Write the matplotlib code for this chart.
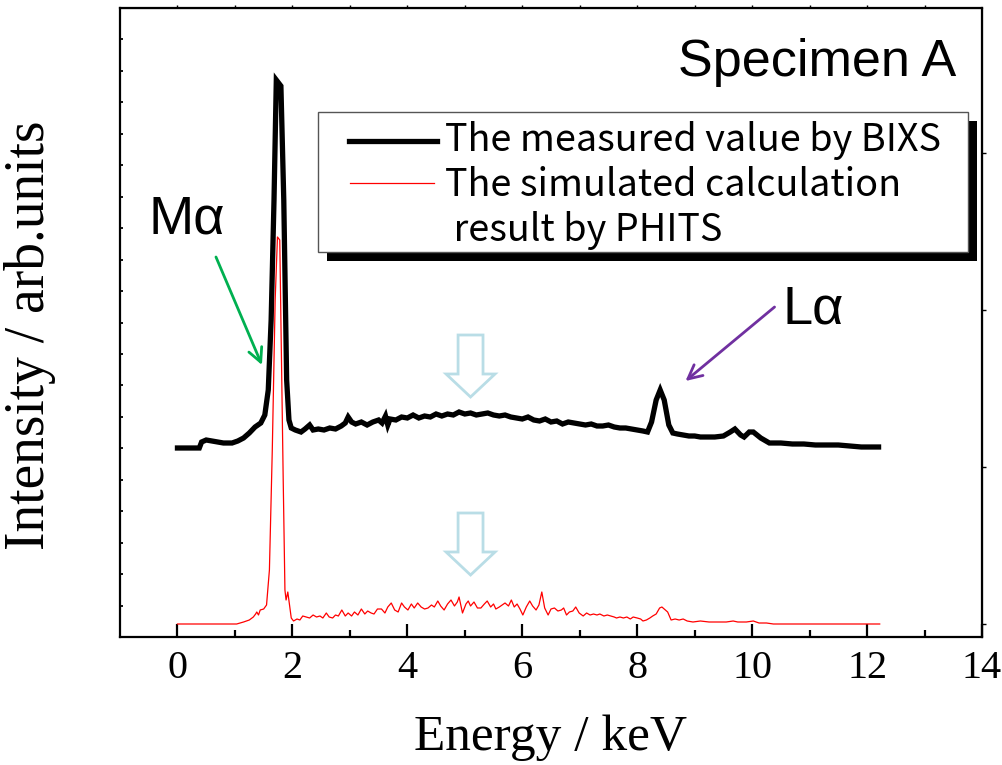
import numpy as np
import matplotlib
matplotlib.use("Agg")
import matplotlib.pyplot as plt
from matplotlib.patches import Polygon, Rectangle
from matplotlib.lines import Line2D

# ---------------- data (energy in keV, intensity in arb. units) ----------------
meas_x = [0.00, 0.38, 0.42, 0.50, 0.60, 0.70, 0.80, 0.95, 1.05, 1.15, 1.25, 1.35, 1.45,
          1.52, 1.58, 1.63, 1.68, 1.72, 1.80, 1.85, 1.90, 1.94, 1.98, 2.05, 2.15, 2.22,
          2.30, 2.36, 2.45, 2.55, 2.65, 2.75, 2.85, 2.92, 2.97, 3.03, 3.10, 3.20, 3.30,
          3.40, 3.50, 3.56, 3.62, 3.66, 3.70, 3.80, 3.90, 4.00, 4.10, 4.20, 4.30, 4.40,
          4.50, 4.60, 4.70, 4.80, 4.90, 5.00, 5.10, 5.20, 5.30, 5.40, 5.50, 5.60, 5.70,
          5.80, 5.90, 6.00, 6.10, 6.20, 6.30, 6.40, 6.50, 6.60, 6.70, 6.80, 6.90, 7.00,
          7.10, 7.20, 7.30, 7.40, 7.50, 7.60, 7.70, 7.80, 7.90, 8.00, 8.10, 8.18, 8.25,
          8.33, 8.40, 8.47, 8.55, 8.62, 8.70, 8.80, 8.90, 9.00, 9.10, 9.20, 9.35, 9.50,
          9.62, 9.70, 9.80, 9.86, 9.95, 10.02, 10.15, 10.30, 10.50, 10.70, 10.90, 11.10,
          11.30, 11.50, 11.70, 11.90, 12.05, 12.20]
meas_y = [189, 189, 195, 197, 196, 195, 194, 194, 196, 199, 204, 210, 214,
          222, 247, 317, 437, 557, 551, 437, 257, 217, 209, 207, 205, 208,
          212, 207, 208, 207, 209, 208, 211, 214, 220, 215, 213, 215, 212,
          215, 217, 214, 221, 212, 218, 217, 220, 219, 222, 219, 221, 220,
          223, 221, 223, 222, 225, 223, 224, 222, 223, 224, 222, 221, 222,
          220, 219, 218, 220, 217, 216, 218, 215, 216, 213, 215, 214, 213,
          212, 213, 211, 211, 212, 210, 209, 209, 208, 207, 206, 205, 215,
          237, 247, 237, 212, 204, 203, 202, 201, 201, 200, 200, 200, 201,
          205, 208, 202, 200, 205, 205, 199, 194, 194, 193, 193, 192,
          192, 192, 191, 190, 190, 190]

sim_x = [0.00, 1.03, 1.15, 1.25, 1.32, 1.36, 1.38, 1.41, 1.44, 1.50, 1.55, 1.60, 1.65,
         1.70, 1.74, 1.78, 1.80, 1.84, 1.87, 1.89, 1.92, 1.95, 1.98, 2.02,
         2.08, 2.13, 2.18, 2.24, 2.30, 2.36, 2.42, 2.48, 2.53, 2.59, 2.64, 2.70, 2.75,
         2.80, 2.86, 2.92, 2.97, 3.03, 3.08, 3.14, 3.20, 3.26, 3.31, 3.37, 3.42, 3.48,
         3.55, 3.61, 3.66, 3.72, 3.78, 3.84, 3.90, 3.95, 4.01, 4.07, 4.12, 4.18, 4.24,
         4.30, 4.36, 4.42, 4.47, 4.53, 4.58, 4.64, 4.70, 4.76, 4.82, 4.87, 4.90, 4.96,
         5.02, 5.06, 5.10, 5.16, 5.22, 5.28, 5.34, 5.39, 5.45, 5.50, 5.54, 5.60, 5.65,
         5.70, 5.76, 5.81, 5.86, 5.91, 5.96, 6.01, 6.07, 6.13, 6.18, 6.24, 6.29, 6.34,
         6.39, 6.45, 6.50, 6.56, 6.62, 6.68, 6.72, 6.77, 6.82, 6.88, 6.93, 6.99, 7.06,
         7.12, 7.18, 7.24, 7.30, 7.35, 7.42, 7.48, 7.54, 7.60, 7.64, 7.70, 7.76, 7.82,
         7.88, 7.93, 8.00, 8.06, 8.10, 8.16, 8.22, 8.27, 8.33, 8.39, 8.43, 8.47, 8.53,
         8.59, 8.66, 8.73, 8.80, 8.87, 8.97, 9.10, 9.25, 9.40, 9.55, 9.67, 9.75, 9.90,
         10.02, 10.12, 10.25, 10.37, 10.60, 11.00, 11.50, 12.00, 12.22]
sim_y = [13, 13, 15, 17, 20, 23, 25, 22, 27, 28, 32, 67, 187,
         337, 400, 397, 317, 157, 47, 37, 45, 32, 19, 16,
         18, 17, 21, 20, 19, 22, 20, 21, 19, 24, 20, 19, 22,
         21, 27, 21, 24, 21, 25, 22, 28, 23, 26, 24, 23, 28,
         28, 24, 30, 34, 27, 25, 34, 30, 27, 33, 29, 34, 30,
         28, 29, 32, 30, 36, 31, 27, 33, 37, 31, 35, 40, 24,
         33, 36, 31, 35, 29, 29, 33, 36, 30, 33, 28, 30, 32,
         34, 31, 37, 30, 33, 28, 22, 30, 36, 31, 27, 32, 45,
         29, 22, 28, 29, 26, 27, 29, 22, 25, 26, 30, 24, 21,
         24, 22, 23, 22, 23, 21, 22, 21, 20, 19, 20, 19, 20,
         18, 20, 19, 18, 16, 17, 19, 21, 23, 29, 30, 28, 25,
         17, 18, 17, 18, 16, 15, 16, 15, 15, 15, 16, 15, 15,
         16, 14, 14, 13, 13, 13, 13, 13, 13]

x_major = [0, 2, 4, 6, 8, 10, 12, 14]
x_labels = ["0", "2", "4", "6", "8", "10", "12", "14"]

label_meas = "The measured value by BIXS"
label_sim = "The simulated calculation\n result by PHITS"

# ---------------- figure ----------------
W, H = 1003, 765
fig = plt.figure(figsize=(W / 100, H / 100), dpi=100)
ax = fig.add_axes([120 / W, 1 - 637 / H, 862 / W, 629 / H])

serif = "Liberation Serif"
ax.plot(meas_x, meas_y, color="black", lw=3.8, solid_joinstyle="miter", zorder=3,
        label=label_meas)
ax.plot(sim_x, sim_y, color="#ff0000", lw=0.9, zorder=3, label=label_sim)

ax.set_xlim(-1, 14)
ax.set_ylim(0, 629)

for s in ax.spines.values():
    s.set_linewidth(1.6)

ax.set_xticks(x_major)
ax.set_xticklabels(x_labels, fontfamily=serif, fontsize=29)
ax.set_xticks([1, 3, 5, 7, 9, 11, 13], minor=True)
ax.tick_params(axis="x", which="major", direction="in", length=9.5, width=1.6, pad=9)
ax.tick_params(axis="x", which="minor", direction="in", length=5, width=1.6)
ax.set_yticks([i * 629 / 20 for i in range(1, 20)])
ax.set_yticklabels([])
ax.tick_params(axis="y", direction="in", length=2.5, width=1.3)

# top & right decorative ticks
axt = ax.secondary_xaxis("top")
axt.set_xticks(list(range(0, 14)))
axt.set_xticklabels([])
axt.tick_params(direction="out", length=2.5, width=1.0)
axr = ax.secondary_yaxis("right")
axr.set_yticks([13, 170, 327, 484])
axr.set_yticklabels([])
axr.tick_params(direction="out", length=3, width=1.0)

ax.set_xlabel("Energy / keV", fontfamily=serif, fontsize=37)
ax.xaxis.set_label_coords(0.5, -0.123)
ax.set_ylabel("Intensity / arb.units", fontfamily=serif, fontsize=40)
ax.yaxis.set_label_coords(-0.074, 0.48)

# hollow down arrows
arrow_color = "#b9dde6"
for top, tip in [(302, 240), (124, 62)]:
    cx, sw, hw = 5.10, 0.217, 0.426
    hs = tip + 23
    poly = Polygon([(cx - sw, top), (cx + sw, top), (cx + sw, hs), (cx + hw, hs),
                    (cx, tip), (cx - hw, hs), (cx - sw, hs)], closed=True,
                   facecolor="white", edgecolor=arrow_color, lw=2.0, zorder=2)
    ax.add_patch(poly)

# annotations
ax.annotate("", xy=(1.47, 272), xytext=(0.67, 380),
            arrowprops=dict(arrowstyle="->", color="#00b050", lw=2.0,
                            mutation_scale=25, shrinkA=0, shrinkB=0))
ax.annotate("", xy=(8.84, 256), xytext=(10.39, 330),
            arrowprops=dict(arrowstyle="->", color="#7030a0", lw=2.0,
                            mutation_scale=25, shrinkA=0, shrinkB=0))
sans = "Liberation Sans"
ax.text(-0.51, 404, "Mα", fontfamily=sans, fontsize=39, ha="left", va="baseline")
ax.text(10.53, 314, "Lα", fontfamily=sans, fontsize=39, ha="left", va="baseline")
ax.text(13.56, 561, "Specimen A", fontfamily=sans, fontsize=37.5, ha="right",
        va="baseline")

# legend drawn by hand (box with black drop shadow)
def fx(px):
    return (px - 120) / 862


def fy(py):
    return (637 - py) / 629


bx0, bx1, by0, by1 = fx(318), fx(968), fy(252), fy(112)
sdx, sdy = 9 / 862, 9 / 629
ax.add_patch(Rectangle((bx0 + sdx, by0 - sdy), bx1 - bx0, by1 - by0, transform=ax.transAxes,
                       facecolor="black", edgecolor="black", lw=0, zorder=5))
ax.add_patch(Rectangle((bx0, by0), bx1 - bx0, by1 - by0, transform=ax.transAxes,
                       facecolor="white", edgecolor="#555555", lw=1.0, zorder=6))
leg_font = "Noto Sans CJK JP"
lines = ax.get_lines()
ax.add_line(Line2D([fx(349), fx(437)], [fy(141), fy(141)], transform=ax.transAxes,
                   color="black", lw=3.8, zorder=7))
ax.add_line(Line2D([fx(350), fx(434)], [fy(183), fy(183)], transform=ax.transAxes,
                   color="#ff0000", lw=0.9, zorder=7))
ax.text(fx(445), fy(141), lines[0].get_label(), transform=ax.transAxes, fontfamily=leg_font,
        fontsize=27.2, ha="left", va="center", zorder=8)
sim_lines = lines[1].get_label().split("\n")
ax.text(fx(445), fy(186), sim_lines[0], transform=ax.transAxes, fontfamily=leg_font,
        fontsize=27.2, ha="left", va="center", zorder=8)
ax.text(fx(445), fy(231), sim_lines[1], transform=ax.transAxes, fontfamily=leg_font,
        fontsize=27.2, ha="left", va="center", zorder=8)

fig.savefig("out.png", dpi=100)
